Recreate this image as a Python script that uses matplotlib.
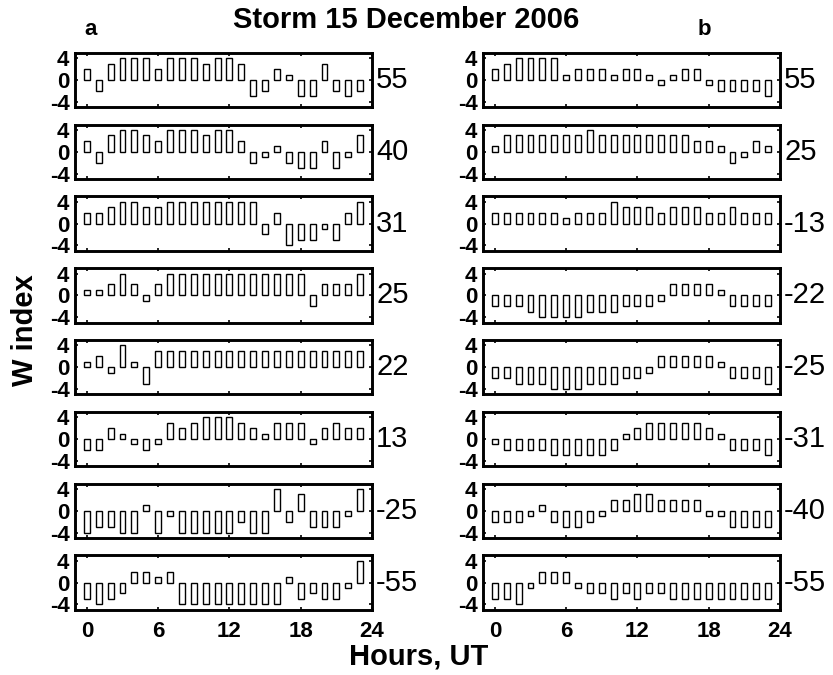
import numpy as np
import matplotlib
matplotlib.use("Agg")
import matplotlib.pyplot as plt

plt.rcParams["font.family"] = ["Liberation Sans", "DejaVu Sans"]
plt.rcParams["axes.unicode_minus"] = False

hours = np.arange(24)

# column a (W index per hour)
a_55 = [2, -2, 3, 4, 4, 4, 2, 4, 4, 4, 3, 4, 4, 3, -3, -2, 2, 1, -3, -3, 3, -2, -3, -2]
a_40 = [2, -2, 3, 4, 4, 3, 2, 4, 4, 4, 3, 4, 4, 2, -2, -1, 1, -2, -3, -3, 2, -3, -1, 3]
a_31 = [2, 2, 3, 4, 4, 3, 3, 4, 4, 4, 4, 4, 4, 4, 4, -2, 2, -4, -3, -3, -1, -3, 2, 4]
a_25 = [1, 1, 2, 4, 2, -1, 2, 4, 4, 4, 4, 4, 4, 4, 4, 4, 4, 4, 4, -2, 2, 2, 2, 4]
a_22 = [1, 2, -1, 4, 1, -3, 3, 3, 3, 3, 3, 3, 3, 3, 3, 3, 3, 3, 3, 3, 3, 3, 3, 3]
a_13 = [-2, -2, 2, 1, -1, -2, -1, 3, 2, 3, 4, 4, 4, 3, 2, 1, 3, 3, 3, -1, 2, 3, 2, 2]
a_m25 = [-4, -3, -3, -4, -4, 1, -4, -1, -4, -4, -4, -4, -4, -2, -4, -4, 4, -2, 3, -3, -3, -3, -1, 4]
a_m55 = [-3, -4, -3, -2, 2, 2, 1, 2, -4, -4, -4, -4, -4, -4, -4, -4, -4, 1, -3, -2, -3, -3, -1, 4]

# column b
b_55 = [2, 3, 4, 4, 4, 4, 1, 2, 2, 2, 1, 2, 2, 1, -1, 1, 2, 2, -1, -2, -2, -2, -2, -3]
b_25 = [1, 3, 3, 3, 3, 3, 3, 3, 4, 3, 3, 3, 3, 3, 3, 3, 3, 2, 2, 1, -2, -1, 2, 1]
b_m13 = [2, 2, 2, 2, 2, 2, 1, 2, 2, 2, 4, 3, 3, 3, 2, 3, 3, 3, 2, 2, 3, 2, 2, 2]
b_m22 = [-2, -2, -2, -3, -4, -4, -4, -4, -3, -3, -3, -2, -2, -2, -1, 2, 2, 2, 2, 1, -2, -2, -2, -2]
b_m25 = [-2, -2, -3, -3, -3, -4, -4, -4, -3, -3, -3, -2, -2, -1, 2, 2, 2, 2, 2, 1, -2, -2, -2, -3]
b_m31 = [-1, -2, -2, -2, -2, -3, -3, -3, -3, -3, -2, 1, 2, 3, 3, 3, 3, 3, 2, 1, -2, -2, -2, -3]
b_m40 = [-2, -2, -2, -1, 1, -2, -3, -3, -2, -1, 2, 2, 3, 3, 2, 2, 2, 2, -1, -1, -3, -3, -3, -3]
b_m55 = [-3, -3, -4, -1, 2, 2, 2, -1, -2, -2, -3, -2, -3, -2, -2, -3, -3, -3, -3, -3, -3, -3, -3, -3]

left_panels = [a_55, a_40, a_31, a_25, a_22, a_13, a_m25, a_m55]
right_panels = [b_55, b_25, b_m13, b_m22, b_m25, b_m31, b_m40, b_m55]
left_labels = ["55", "40", "31", "25", "22", "13", "-25", "-55"]
right_labels = ["55", "25", "-13", "-22", "-25", "-31", "-40", "-55"]

W, H = 833, 675
fig = plt.figure(figsize=(W / 100, H / 100), dpi=100)

col_x = [75, 483]
col_w = 297
row_top0 = 52.7
row_pitch = 71.8
row_h = 54.5

for c, (panels, labels) in enumerate([(left_panels, left_labels),
                                       (right_panels, right_labels)]):
    for r, (vals, lab) in enumerate(zip(panels, labels)):
        top = row_top0 + r * row_pitch
        ax = fig.add_axes([col_x[c] / W, 1 - (top + row_h) / H, col_w / W, row_h / H])
        ax.bar(hours, vals, width=0.5, facecolor="white", edgecolor="black", linewidth=1.0)
        ax.set_xlim(-1, 24)
        ax.set_ylim(-5, 5)
        ax.set_yticks([-4, 0, 4])
        ax.set_xticks([0, 6, 12, 18, 24])
        ax.tick_params(direction="in", length=2.5, width=1.2, top=True, right=True,
                       labelsize=16)
        ax.tick_params(axis="y", pad=4)
        ax.tick_params(axis="x", pad=8)
        for t in ax.get_xticklabels() + ax.get_yticklabels():
            t.set_fontweight("bold")
        if r < 7:
            ax.set_xticklabels([])
        for sp in ax.spines.values():
            sp.set_linewidth(2.1)
        ax.text(1.0 + 4 / col_w, 0.5, lab, transform=ax.transAxes,
                ha="left", va="center", fontsize=21)

fig.text(0.487, 0.970, "Storm 15 December 2006", ha="center", va="center",
         fontsize=21, fontweight="bold")
fig.text(0.109, 0.956, "a", ha="center", va="center", fontsize=16, fontweight="bold")
fig.text(0.845, 0.956, "b", ha="center", va="center", fontsize=16, fontweight="bold")
fig.text(0.030, 0.511, "W index", ha="center", va="center", rotation=90,
         fontsize=21, fontweight="bold")
fig.text(0.503, 0.027, "Hours, UT", ha="center", va="center",
         fontsize=21, fontweight="bold")

fig.savefig("out.png", dpi=100)
